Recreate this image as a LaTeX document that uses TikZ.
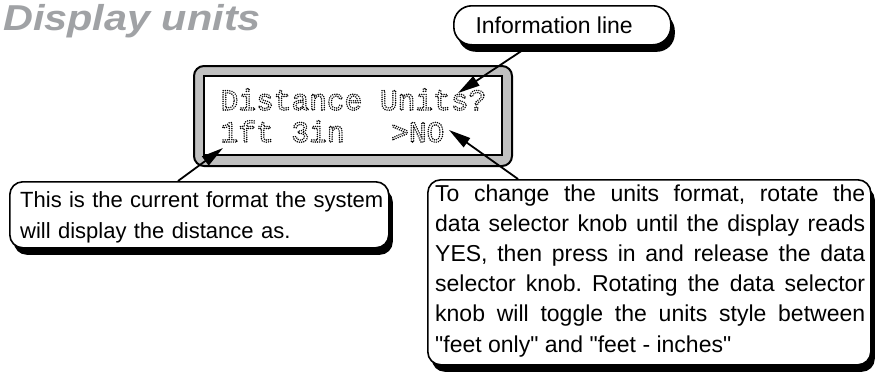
\documentclass[tikz,border=0pt]{standalone}
\usepackage{fontspec}
\setmainfont{Liberation Sans}[Ligatures=TeXOff]
\newfontfamily\titlefont{Liberation Sans}[FakeStretch=1.15]
\newfontfamily\lcdfont{Liberation Mono}
\usetikzlibrary{arrows.meta,shadows}
\definecolor{titlegray}{RGB}{160,162,165}
\definecolor{lcdgray}{RGB}{192,192,192}
\newcommand{\dotstroke}{\special{pdf:literal direct 1 Tr 1.6 w 1 J [0 2.2] 0 d}}
\tikzset{
  callout/.style={draw=black, line width=1.6pt, fill=white, rounded corners=13pt,
    drop shadow={shadow xshift=4pt, shadow yshift=-7pt, opacity=1, fill=black}},
  calltext/.style={inner sep=0pt, anchor=base west, font=\fontsize{22}{31}\selectfont\frenchspacing},
  lcdtext/.style={inner sep=0pt, anchor=base west, font=\lcdfont\fontsize{29.5}{32}\selectfont},
  pointer/.style={line width=1.8pt, -{Triangle[length=22pt,width=11pt]}},
  lcdframe/.style={draw=black, line width=2pt, fill=lcdgray, rounded corners=10pt, inner sep=0pt},
  lcdscreen/.style={draw=black, line width=2pt, fill=white, inner sep=0pt}
}
\begin{document}
\begin{tikzpicture}[x=1pt,y=-1pt]
\fill[white] (0,0) rectangle (877,380);
\useasboundingbox (0,0) rectangle (877,380);
% title
\node[inner sep=0pt, anchor=base west, font=\titlefont\bfseries\itshape\fontsize{36}{36}\selectfont, text=titlegray] (title) at (3,30) {Display units};
% LCD
\node[lcdframe, anchor=north west, minimum width=318pt, minimum height=100pt] (lcd) at (193,65) {};
\node[lcdscreen, anchor=north west, minimum width=298pt, minimum height=79pt] (screen) at (203,75) {};
\node[lcdtext] (lcdA) at (220.5,110) {\dotstroke Distance Units?};
\node[lcdtext] (lcdB) at (220.5,142) {\dotstroke 1ft 3in};
\node[lcdtext] (lcdC) at (391,142) {\dotstroke >NO};
% arrow end points
\coordinate (infoFoot) at (532,44);
\coordinate (tipUnits) at (458,93);
\coordinate (leftFoot) at (178,181);
\coordinate (tipFt) at (223,148);
\coordinate (rightFoot) at (518,179);
\coordinate (tipNo) at (449,130);
\draw[pointer] (infoFoot) -- (tipUnits);
\draw[pointer] (leftFoot) -- (tipFt);
\draw[pointer] (rightFoot) -- (tipNo);
% info box
\node[callout, rounded corners=18pt, anchor=north west, minimum width=217pt, minimum height=39pt, inner sep=0pt] (info) at (453,5) {};
\node[inner sep=0pt, anchor=base east, font=\fontsize{23}{23}\selectfont] (infotext) at (633,33) {Information line};
% left callout
\node[callout, anchor=north west, minimum width=379pt, minimum height=66pt, inner sep=0pt] (leftbox) at (9,181) {};
\node[calltext, text width=400pt, align=left] (lefttext) at (20,207) {This is the current format the system\\will display the distance as.};
% right callout
\node[callout, anchor=north west, minimum width=443pt, minimum height=185pt, inner sep=0pt] (rightbox) at (427,179) {};
\node[calltext, text width=430pt, align=justify, font=\fontsize{23}{30.2}\selectfont\frenchspacing] (righttext) at (435,201) {To change the units format, rotate the\linebreak data selector knob until the display reads\linebreak YES, then press in and release the data\linebreak selector knob. Rotating the data selector\linebreak knob will toggle the units style between\linebreak "feet only" and "feet - inches"};
\end{tikzpicture}
\end{document}
